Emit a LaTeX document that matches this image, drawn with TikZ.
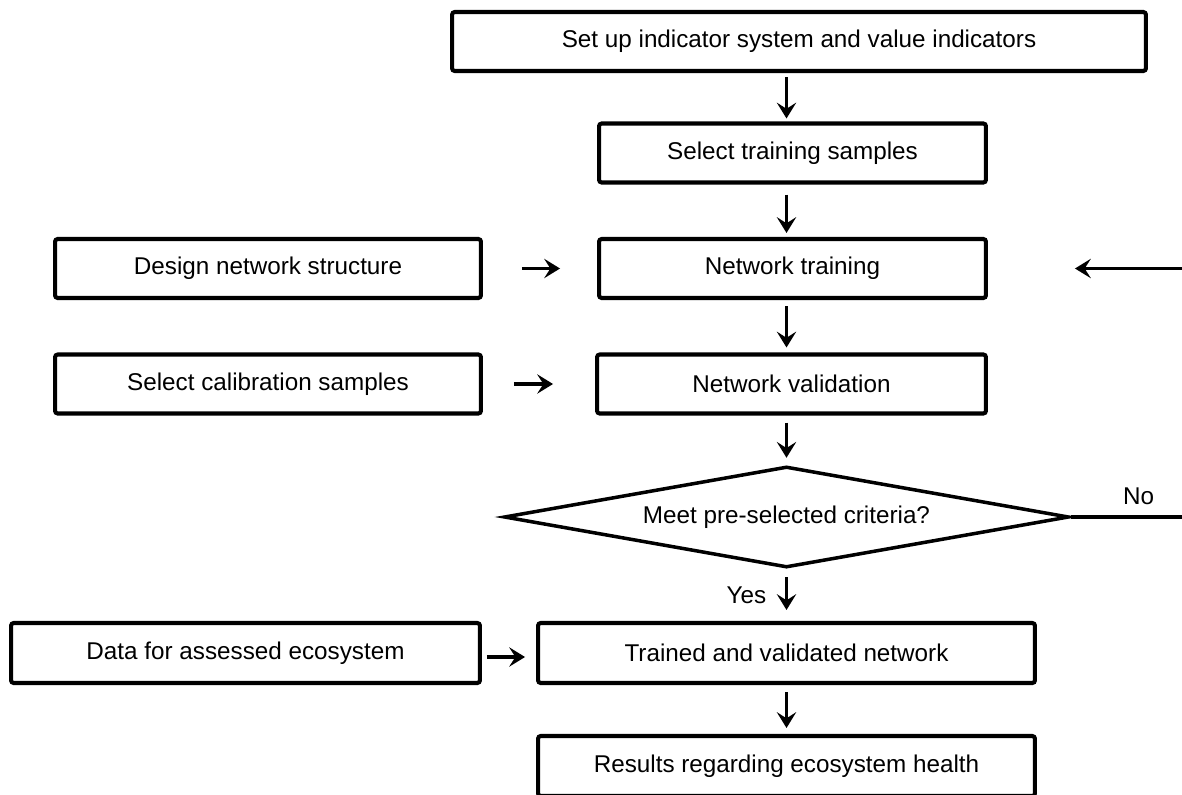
\documentclass[tikz,border=0pt]{standalone}
\usepackage{fontspec}
\setmainfont{Liberation Sans}
\usetikzlibrary{arrows.meta,shapes.geometric}

\tikzset{
  stepbox/.style={draw, line width=2.3pt, rounded corners=1.5pt, minimum height=1.18cm,
    inner sep=0pt, font=\fontsize{13.8}{16}\selectfont},
  arr/.style={line width=2.1pt, -{Stealth[length=9pt,width=11pt,inset=3.5pt]}},
  lbl/.style={font=\fontsize{13.8}{16}\selectfont, inner sep=2pt},
}

\begin{document}
\begin{tikzpicture}[x=0.02cm, y=-0.02cm]
	\clip (0,0) rectangle (1182,794);

	% main column
	\node[stepbox, minimum width=13.88cm] (setup) at (799,41.5) {Set up indicator system and value indicators};
	\node[stepbox, minimum width=7.74cm] (trainsel) at (792.5,153) {Select training samples};
	\node[stepbox, minimum width=7.74cm] (training) at (792.5,268.5) {Network training};
	\node[stepbox, minimum width=7.78cm] (validation) at (791.5,384) {Network validation};
	\node[draw, diamond, line width=2pt, minimum width=11.3cm, minimum height=2.02cm, aspect=5.6,
	      inner sep=0pt, font=\fontsize{13.8}{16}\selectfont] (check) at (786.5,517) {Meet pre-selected criteria?};
	\node[stepbox, minimum width=9.94cm, minimum height=1.2cm] (trained) at (786.5,653) {Trained and validated network};
	\node[stepbox, minimum width=9.94cm, minimum height=1.2cm] (results) at (786.5,766) {Results regarding ecosystem health};

	% inputs on the left
	\node[stepbox, minimum width=8.52cm] (design) at (268,268.5) {Design network structure};
	\node[stepbox, minimum width=8.52cm] (calib) at (268,384) {Select calibration samples};
	\node[stepbox, minimum width=9.38cm, minimum height=1.2cm] (data) at (245.5,653) {Data for assessed ecosystem};

	% loop back from the right edge
	\coordinate (fbin) at (1190,268.5);
	\coordinate (noout) at (1190,517);

	% downward flow
	\draw[arr, shorten <=0.08cm, shorten >=0.06cm] (setup.south -| check) -- (trainsel.north -| check);
	\draw[arr, shorten <=0.2cm, shorten >=0.08cm] (trainsel.south -| check) -- (training.north -| check);
	\draw[arr, shorten <=0.12cm, shorten >=0.1cm] (training.south -| check) -- (validation.north -| check);
	\draw[arr, shorten <=0.14cm, shorten >=0.14cm] (validation.south -| check) -- (check.north);
	\draw[arr, shorten <=0.16cm, shorten >=0.22cm] (check.south) -- (trained.north -| check)
	      node[lbl, midway, left=0.3cm] {Yes};
	\draw[arr, shorten <=0.14cm, shorten >=0.12cm] (trained.south -| check) -- (results.north -| check);

	% side inputs
	\draw[arr, shorten <=0.78cm, shorten >=0.74cm] (design) -- (training);
	\draw[arr, shorten <=0.62cm, shorten >=0.84cm] (calib) -- (validation);
	\draw[arr, shorten <=0.1cm, shorten >=0.22cm] ([yshift=-0.08cm]data.east) -- ([yshift=-0.08cm]trained.west);

	% No branch and return
	\draw[line width=2pt] (check.east) -- (noout) node[lbl, pos=0.57, above=4pt] {No};
	\draw[arr, shorten >=1.74cm] (fbin) -- (training.east);
\end{tikzpicture}
\end{document}
